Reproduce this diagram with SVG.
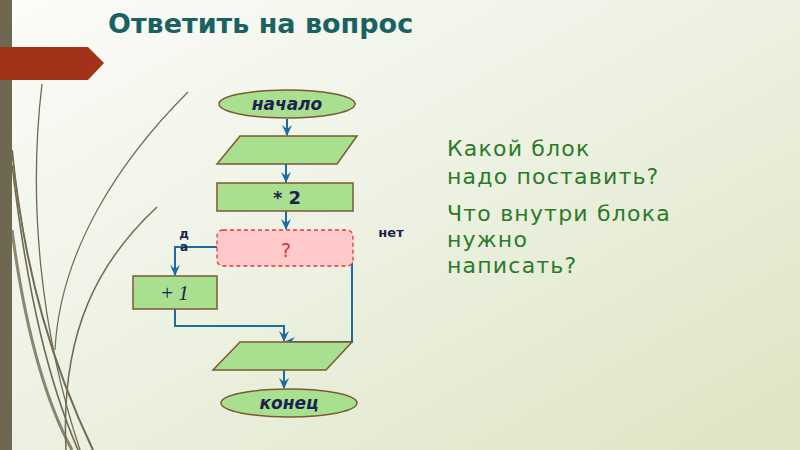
<svg xmlns="http://www.w3.org/2000/svg" width="800" height="450" viewBox="0 0 800 450">
<defs>
<linearGradient id="bg" x1="0" y1="0" x2="1" y2="1">
<stop offset="0" stop-color="#fcfcf9"/>
<stop offset="0.45" stop-color="#eef2e4"/>
<stop offset="1" stop-color="#dde5c3"/>
</linearGradient>
<marker id="arr" viewBox="0 0 10 10" refX="9" refY="5" markerWidth="11" markerHeight="11" orient="auto" markerUnits="userSpaceOnUse">
<path d="M0,0.5 L10,5 L0,9.5 L3.5,5 Z" fill="#1f6a9e"/>
</marker>
<style>
.blk{fill:#a8e08f;stroke:#7a5a35;stroke-width:1.5}
.dec{fill:#ffc9c9;stroke:#e03a3a;stroke-width:1.3;stroke-dasharray:4 3}
.con{fill:none;stroke:#1f6a9e;stroke-width:2}
.lbl{font-family:"DejaVu Sans","Liberation Sans",sans-serif;fill:#1a2350}
.q{font-family:"DejaVu Sans","Liberation Sans",sans-serif;fill:#2a7a2a;font-size:22px;letter-spacing:1.2px}
.cv{fill:none;stroke:#706a50}
</style>
</defs>
<rect width="800" height="450" fill="url(#bg)"/>
<g id="decor">
<path class="cv" d="M12,230 C25,330 45,400 72,450" stroke="#d6dacb" stroke-width="3" stroke-opacity="0.8"/>
<path class="cv" d="M188,92 C120,160 60,250 55,350" stroke="#d4d6c8" stroke-width="1.2"/>
<path class="cv" d="M42,84 C28,200 40,330 80,450" stroke-width="1.3"/>
<path class="cv" d="M12,150 C25,280 55,370 93,450" stroke-width="2"/>
<path class="cv" d="M12,165 C28,300 50,385 78,450" stroke-width="1.6"/>
<path class="cv" d="M157,207 C100,260 60,330 66,450" stroke-width="1.5"/>
<rect x="0" y="0" width="12" height="450" fill="#6e6850"/>
<path d="M0,47 L88,47 L104,63 L88,80 L0,80 Z" fill="#a3321a"/>
</g>
<text x="108" y="33" font-family="DejaVu Sans, Liberation Sans, sans-serif" font-weight="bold" font-size="27" fill="#1a6262">Ответить на вопрос</text>
<g id="connectors">
<line class="con" x1="287" y1="119" x2="287" y2="135" marker-end="url(#arr)"/>
<line class="con" x1="286" y1="164" x2="286" y2="182" marker-end="url(#arr)"/>
<line class="con" x1="286" y1="211" x2="286" y2="229" marker-end="url(#arr)"/>
<polyline class="con" points="217,247 175,247 175,275" marker-end="url(#arr)"/>
<polyline class="con" points="175,309 175,326 284,326 284,341" marker-end="url(#arr)"/>
<polyline class="con" points="352,262 352,342 285,342" marker-end="url(#arr)"/>
<line class="con" x1="284" y1="370" x2="284" y2="388" marker-end="url(#arr)"/>
</g>
<g id="start">
<ellipse class="blk" cx="287" cy="104" rx="68" ry="14"/>
<text class="lbl" x="287" y="110" text-anchor="middle" font-size="17" font-style="italic" font-weight="bold">начало</text>
</g>
<g id="input">
<polygon class="blk" points="240,136 357,136 337,164 217,164"/>
</g>
<g id="mul">
<rect class="blk" x="217" y="183" width="136" height="28"/>
<text class="lbl" x="287" y="204" text-anchor="middle" font-size="18" font-weight="bold">* 2</text>
</g>
<g id="decision">
<rect class="dec" x="217" y="230" width="136" height="36" rx="6"/>
<text x="286" y="257" text-anchor="middle" font-family="DejaVu Sans, Liberation Sans, sans-serif" font-size="19" fill="#e03030">?</text>
</g>
<g id="labels">
<text class="lbl" x="184" y="238" text-anchor="middle" font-size="12" font-weight="bold">д</text>
<text class="lbl" x="184" y="251" text-anchor="middle" font-size="12" font-weight="bold">а</text>
<text class="lbl" x="391" y="237" text-anchor="middle" font-size="13" font-weight="bold">нет</text>
</g>
<g id="inc">
<rect class="blk" x="133" y="276" width="84" height="33"/>
<text x="175" y="300" text-anchor="middle" font-family="Liberation Serif, serif" font-size="21" fill="#1a2350">+  <tspan font-style="italic">1</tspan></text>
</g>
<g id="output">
<polygon class="blk" points="240,342 352,342 326,370 213,370"/>
</g>
<g id="end">
<ellipse class="blk" cx="289" cy="403" rx="68" ry="14"/>
<text class="lbl" x="289" y="409" text-anchor="middle" font-size="17" font-style="italic" font-weight="bold">конец</text>
</g>
<g id="question">
<text class="q" x="447" y="156">Какой  блок</text>
<text class="q" x="447" y="184">надо поставить?</text>
<text class="q" x="447" y="221">Что внутри блока</text>
<text class="q" x="447" y="247">нужно</text>
<text class="q" x="447" y="273">написать?</text>
</g>
</svg>
